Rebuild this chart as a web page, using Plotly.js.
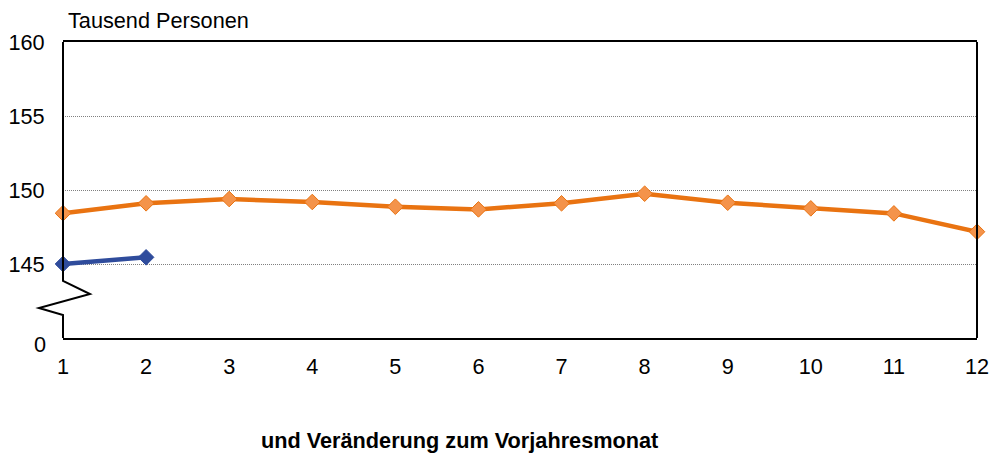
<!DOCTYPE html>
<html>
<head>
<meta charset="utf-8">
<script src="https://cdn.plot.ly/plotly-3.0.1.min.js"></script>
<style>html,body{margin:0;padding:0;background:#fff;}#chart{width:994px;height:459px;}</style>
</head>
<body>
<div id="chart"></div>
<script>
const months = [1,2,3,4,5,6,7,8,9,10,11,12];
const seriesPrev = [148.43,149.1,149.39,149.19,148.87,148.69,149.1,149.75,149.14,148.76,148.42,147.18];
const seriesCurr = [145.0,145.45];
const yTickVals = [145,150,155,160];
const yTickText = ['145','150','155','160'];
const yBreakLabel = '0';
const yAxisTitle = 'Tausend Personen';
const bottomText = 'und Veränderung zum Vorjahresmonat';

const font = {family:'Arial, "Liberation Sans", sans-serif', size:21.7, color:'#000'};

const traces = [
  {x: months, y: seriesPrev, type:'scatter', mode:'lines+markers', cliponaxis:false,
   line:{color:'#E97311', width:4.5},
   marker:{symbol:'diamond', size:12, color:'#F4934A', line:{color:'#E97311', width:1}}},
  {x: months.slice(0, seriesCurr.length), y: seriesCurr, type:'scatter', mode:'lines+markers', cliponaxis:false,
   line:{color:'#2F4C9C', width:4.5},
   marker:{symbol:'diamond', size:12, color:'#2F4C9C', line:{color:'#2F4C9C', width:1}}}
];

const layout = {
  width:994, height:459,
  margin:{l:63, r:17, t:42, b:121},
  paper_bgcolor:'#fff', plot_bgcolor:'#fff',
  showlegend:false,
  font: font,
  xaxis:{range:[1,12], tickvals:months, ticktext:months.map(String), showgrid:false, zeroline:false,
         showline:true, mirror:true, linecolor:'#000', linewidth:2,
         ticks:'outside', ticklen:8, tickcolor:'rgba(0,0,0,0)', tickfont:font},
  yaxis:{range:[140,160], tickvals:yTickVals, ticktext:yTickText, showgrid:true, gridcolor:'#808080',
         griddash:'1px,1px', gridwidth:1, zeroline:false, showline:false,
         ticks:'outside', ticklen:13, tickcolor:'rgba(0,0,0,0)', tickfont:font},
  shapes:[
    {type:'line', xref:'paper', yref:'paper', x0:1, x1:1, y0:0, y1:1, line:{color:'#000', width:2}},
    {type:'path', xref:'paper', yref:'paper',
     path:'M0,1 L0,0.1926 L0.0295,0.1486 L-0.0263,0.1014 L0,0.0777 L0,0',
     line:{color:'#000', width:2}, fillcolor:'rgba(0,0,0,0)'}
  ],
  annotations:[
    {text:yAxisTitle, xref:'paper', yref:'paper', x:0.003, y:1.071, xanchor:'left', yanchor:'middle',
     showarrow:false, font:font},
    {text:yBreakLabel, xref:'paper', yref:'y', x:0, y:140, xanchor:'right', yanchor:'middle', xshift:-15, yshift:-6,
     showarrow:false, font:font},
    {text:'<b>'+bottomText+'</b>', xref:'paper', yref:'paper', x:0.434, y:-0.345, xanchor:'center', yanchor:'middle',
     showarrow:false, font:font}
  ]
};
Plotly.newPlot('chart', traces, layout, {staticPlot:true});
</script>
</body>
</html>
